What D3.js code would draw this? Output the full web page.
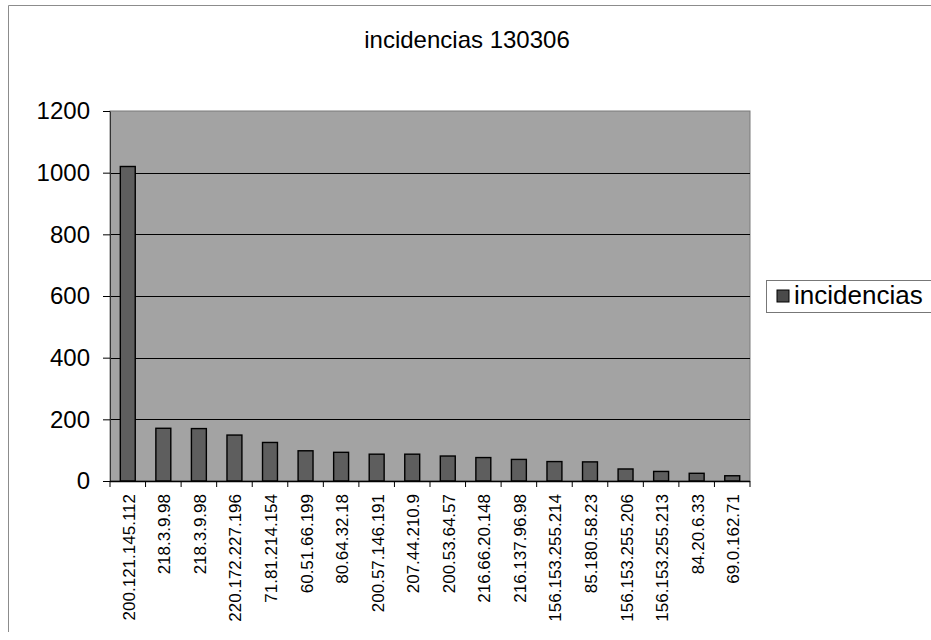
<!DOCTYPE html>
<html>
<head>
<meta charset="utf-8">
<script src="https://cdn.jsdelivr.net/npm/d3@7"></script>
<style>
  html, body { margin: 0; padding: 0; background: #fff; }
  svg { display: block; font-family: Arial, "Liberation Sans", sans-serif; }
</style>
</head>
<body>
<svg id="chart" width="931" height="640"></svg>
<script>
// Incident counts per source IP address
const title = "incidencias 130306";
const seriesName = "incidencias";
const addresses = [
  "200.121.145.112", "218.3.9.98", "218.3.9.98", "220.172.227.196",
  "71.81.214.154", "60.51.66.199", "80.64.32.18", "200.57.146.191",
  "207.44.210.9", "200.53.64.57", "216.66.20.148", "216.137.96.98",
  "156.153.255.214", "85.180.58.23", "156.153.255.206", "156.153.255.213",
  "84.20.6.33", "69.0.162.71"
];
const incidencias = [1020, 171, 170, 149, 125, 98, 93, 87, 87, 81, 76, 70, 63, 62, 39, 31, 25, 17];
const yTicks = [0, 200, 400, 600, 800, 1000, 1200];

const svg = d3.select("#chart");

// chart frame
svg.append("path")
  .attr("d", "M8.5,632 L8.5,5.5 L931,5.5")
  .attr("fill", "none")
  .attr("stroke", "#8c8c8c")
  .attr("stroke-width", 1);

const plot = { left: 110, right: 750, top: 111, bottom: 481 };

const x = d3.scaleBand()
  .domain(d3.range(addresses.length))
  .range([plot.left, plot.right])
  .paddingInner(0.58)
  .paddingOuter(0.29);

const y = d3.scaleLinear()
  .domain([0, 1200])
  .range([plot.bottom, plot.top]);

// plot area background
svg.append("rect")
  .attr("x", plot.left)
  .attr("y", plot.top)
  .attr("width", plot.right - plot.left)
  .attr("height", plot.bottom - plot.top)
  .attr("fill", "#a3a3a3")
  .attr("stroke", "#7a7a7a")
  .attr("stroke-width", 1);

// horizontal gridlines
svg.append("g")
  .selectAll("line")
  .data(yTicks.filter(t => t > 0 && t < 1200))
  .join("line")
  .attr("x1", plot.left)
  .attr("x2", plot.right)
  .attr("y1", d => Math.round(y(d)) + 0.5)
  .attr("y2", d => Math.round(y(d)) + 0.5)
  .attr("stroke", "#000")
  .attr("stroke-width", 1);

// bars
svg.append("g")
  .selectAll("rect")
  .data(incidencias)
  .join("rect")
  .attr("x", (d, i) => x(i))
  .attr("y", d => y(d))
  .attr("width", x.bandwidth())
  .attr("height", d => y(0) - y(d))
  .attr("fill", "#5e5e5e")
  .attr("stroke", "#000")
  .attr("stroke-width", 1.4);

// y axis
const yAxis = svg.append("g")
  .attr("transform", `translate(${plot.left},0)`)
  .call(d3.axisLeft(y)
    .tickValues(yTicks)
    .tickFormat(d3.format("d"))
    .tickSize(7)
    .tickPadding(13)
    .tickSizeOuter(0));
yAxis.select(".domain").attr("stroke", "#333");
yAxis.selectAll(".tick line").attr("stroke", "#000");
yAxis.selectAll(".tick text")
  .attr("font-size", 24)
  .attr("fill", "#000")
  .attr("font-family", "Arial, 'Liberation Sans', sans-serif");

// x axis line and category boundary ticks
svg.append("line")
  .attr("x1", plot.left).attr("x2", plot.right)
  .attr("y1", plot.bottom + 0.5).attr("y2", plot.bottom + 0.5)
  .attr("stroke", "#000").attr("stroke-width", 1.5);

const step = x.step();
const boundaries = d3.range(addresses.length + 1).map(i => plot.left + i * step);
svg.append("g")
  .selectAll("line")
  .data(boundaries)
  .join("line")
  .attr("x1", d => d).attr("x2", d => d)
  .attr("y1", plot.bottom).attr("y2", plot.bottom + 6)
  .attr("stroke", "#000");

// rotated category labels
svg.append("g")
  .selectAll("text")
  .data(addresses)
  .join("text")
  .attr("transform", (d, i) => `translate(${x(i) + x.bandwidth() / 2 + 1},${plot.bottom + 13}) rotate(-90)`)
  .attr("text-anchor", "end")
  .attr("dy", "0.35em")
  .attr("font-size", 17)
  .attr("fill", "#000")
  .text(d => d);

// title
svg.append("text")
  .attr("x", 467)
  .attr("y", 48)
  .attr("text-anchor", "middle")
  .attr("font-size", 24)
  .attr("fill", "#000")
  .text(title);

// legend
const legend = svg.append("g");
legend.append("rect")
  .attr("x", 766.5).attr("y", 280.5)
  .attr("width", 180).attr("height", 32)
  .attr("fill", "#fff")
  .attr("stroke", "#777");
legend.append("rect")
  .attr("x", 777).attr("y", 290)
  .attr("width", 12).attr("height", 12)
  .attr("fill", "#4a4a4a")
  .attr("stroke", "#000");
legend.append("text")
  .attr("x", 794)
  .attr("y", 304)
  .attr("font-size", 26)
  .attr("fill", "#000")
  .text(seriesName);
</script>
</body>
</html>
